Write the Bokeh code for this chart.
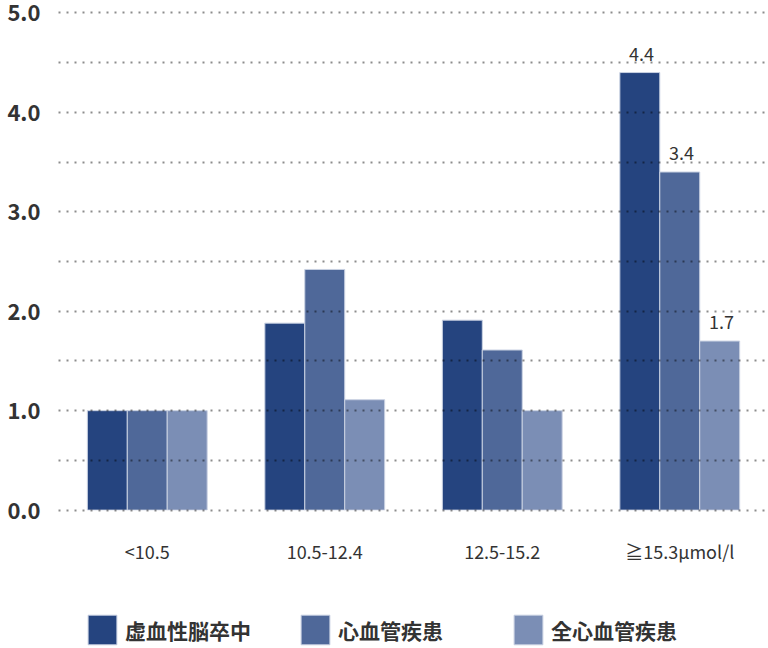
from bokeh.plotting import figure
from bokeh.layouts import column
from bokeh.models import (ColumnDataSource, FactorRange, Range1d, Legend, LegendItem,
                          FixedTicker, NumeralTickFormatter)
from bokeh.transform import dodge
from bokeh.core.properties import value
from bokeh.embed import file_html
from bokeh.resources import INLINE

categories = ["<10.5", "10.5-12.4", "12.5-15.2", "≧15.3μmol/l"]
series_names = ["虚血性脳卒中", "心血管疾患", "全心血管疾患"]
stroke = [1.0, 1.88, 1.91, 4.4]
cvd = [1.0, 2.42, 1.61, 3.4]
total_cvd = [1.0, 1.11, 1.0, 1.7]
y_ticks = [0, 1, 2, 3, 4, 5]
grid_ticks = [0, 0.5, 1, 1.5, 2, 2.5, 3, 3.5, 4, 4.5, 5]
annotated_category = "≧15.3μmol/l"

colors = ["#25447f", "#4f6899", "#7b8eb5"]
FONT = "Noto Sans CJK JP"

source = ColumnDataSource(dict(cat=categories, s0=stroke, s1=cvd, s2=total_cvd))

p = figure(x_range=FactorRange(*categories), y_range=Range1d(-0.004, 5.004),
           frame_width=710, frame_height=498, output_backend="svg",
           toolbar_location=None,
           min_border_left=58, min_border_right=0, min_border_top=12,
           min_border_bottom=60)
p.outline_line_color = None
p.background_fill_color = "white"
p.border_fill_color = "white"
p.x_range.range_padding = 0

bw = 0.225
offsets = [-bw, 0, bw]
keys = ["s0", "s1", "s2"]
for i, key in enumerate(keys):
    p.vbar(x=dodge("cat", offsets[i], range=p.x_range), top=key, width=bw,
           source=source, fill_color=colors[i], line_color="#c9d1e2",
           line_width=1)

# value labels for the last category
idx = categories.index(annotated_category)
vals = [stroke[idx], cvd[idx], total_cvd[idx]]
for i in range(3):
    sub = ColumnDataSource(dict(cat=[annotated_category], y=[vals[i]],
                                txt=[f"{vals[i]:.1f}"]))
    p.text(x=dodge("cat", offsets[i] + 0.01, range=p.x_range), y="y", text="txt",
           source=sub, text_align="center", text_baseline="alphabetic",
           y_offset=-19, text_font=value(FONT), text_font_size="18px",
           text_color="#333333")

# grid
p.xgrid.grid_line_color = None
p.ygrid.ticker = FixedTicker(ticks=grid_ticks)
p.ygrid.grid_line_color = "black"
p.ygrid.grid_line_alpha = 0.45
p.ygrid.grid_line_width = 2
p.ygrid.grid_line_dash = "2 6"
p.ygrid.level = "overlay"

# axes
p.yaxis.ticker = FixedTicker(ticks=y_ticks)
p.yaxis.formatter = NumeralTickFormatter(format="0.0")
p.yaxis.axis_line_color = None
p.yaxis.major_tick_line_color = None
p.yaxis.minor_tick_line_color = None
p.yaxis.major_tick_out = 0
p.yaxis.major_tick_in = 0
p.yaxis.major_label_standoff = 18
p.yaxis.major_label_text_font = FONT
p.yaxis.major_label_text_font_size = "22px"
p.yaxis.major_label_text_font_style = "bold"
p.yaxis.major_label_text_color = "#333333"

p.xaxis.axis_line_color = None
p.xaxis.major_tick_line_color = None
p.xaxis.minor_tick_line_color = None
p.xaxis.major_tick_out = 0
p.xaxis.major_tick_in = 0
p.xaxis.major_label_standoff = 27
p.xaxis.major_label_text_font = FONT
p.xaxis.major_label_text_font_size = "18px"
p.xaxis.major_label_text_color = "#333333"

# legend in its own strip below the chart
lg = figure(x_range=FactorRange(*categories), y_range=Range1d(0, 1),
            frame_width=768, frame_height=78, output_backend="svg",
            toolbar_location=None, x_axis_type=None, y_axis_type=None,
            min_border_left=0, min_border_right=0, min_border_top=0,
            min_border_bottom=0)
lg.outline_line_color = None
lg.xgrid.visible = False
lg.ygrid.visible = False
lg_renderers = []
for i, key in enumerate(keys):
    r = lg.vbar(x=dodge("cat", offsets[i], range=lg.x_range), top=key, width=bw,
                source=source, fill_color=colors[i], line_color="#c9d1e2",
                line_width=1)
    r.visible = False
    lg_renderers.append(r)

legend = Legend(items=[LegendItem(label=series_names[i], renderers=[lg_renderers[i]])
                       for i in range(3)],
                orientation="horizontal", location=(84, 0),
                glyph_width=36, glyph_height=37, label_standoff=5,
                label_width=160, spacing=12, padding=0, margin=0,
                label_text_font=FONT, label_text_font_size="21px",
                label_text_font_style="bold", label_text_color="#333333",
                border_line_color=None, background_fill_alpha=0)
lg.add_layout(legend, "center")

layout = column(p, lg, spacing=0)
open("out.html", "w").write(file_html(layout, INLINE))
